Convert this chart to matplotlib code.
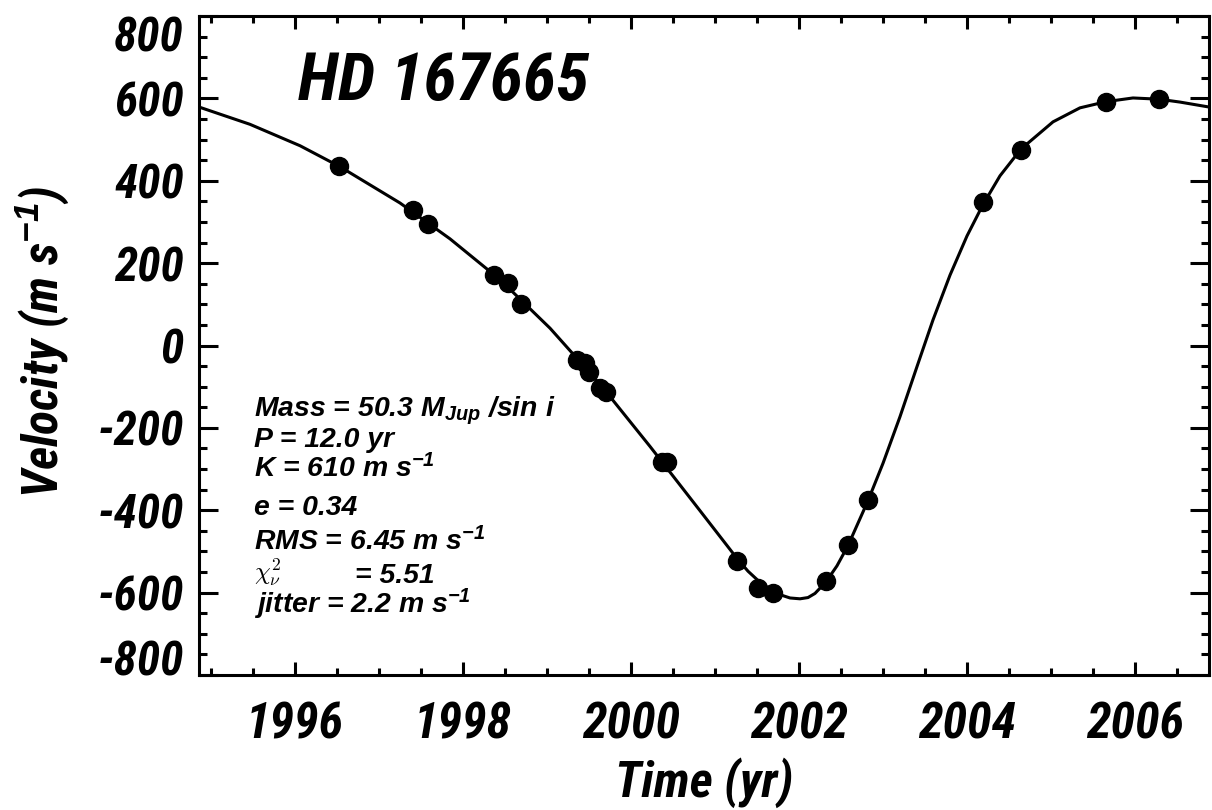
import matplotlib
matplotlib.use('Agg')
import matplotlib.pyplot as plt
import matplotlib.font_manager as fm
from matplotlib.ticker import MultipleLocator

obs_year = [1996.52, 1997.40, 1997.58, 1998.37, 1998.54, 1998.69, 1999.36,
            1999.45, 1999.50, 1999.63, 1999.70, 2000.37, 2000.43, 2001.26,
            2001.51, 2001.69, 2002.32, 2002.58, 2002.82, 2004.19, 2004.64,
            2005.65, 2006.29]
obs_vel = [436, 329, 295, 171, 152, 101, -35, -42, -64, -103, -113, -283,
           -283, -523, -589, -601, -572, -484, -375, 348, 475, 591, 599]

# orbit fit curve
fit_year = [1994.857, 1995.464, 1996.060, 1996.536, 1997.250, 1997.845,
            1998.440, 1999.036, 1999.631, 2000.226, 2000.821, 2001.262,
            2001.393, 2001.536, 2001.655, 2001.774, 2001.893, 2002.012,
            2002.107, 2002.190, 2002.321, 2002.452, 2002.583, 2002.821,
            2003.000, 2003.202, 2003.405, 2003.595, 2003.798, 2004.000,
            2004.190, 2004.393, 2004.643, 2005.024, 2005.345, 2005.655,
            2005.976, 2006.286, 2006.536, 2006.881]
fit_vel = [579, 537, 485, 434, 346, 259, 160, 42, -94, -245, -401, -517,
           -548, -575, -592, -605, -613, -615, -612, -602, -574, -535, -486,
           -377, -286, -173, -51, 62, 171, 266, 342, 412, 477, 543, 577, 592,
           601, 598, 591, 579]

xticks = [1996, 1998, 2000, 2002, 2004, 2006]
yticks = [-800, -600, -400, -200, 0, 200, 400, 600, 800]

star = 'HD 167665'
info = [
    (416, r'Mass = 50.3 M$_{Jup}$ /sin $i$'),
    (447, 'P = 12.0 yr'),
    (477, r'K = 610 m s$^{-1}$'),
    (515, 'e = 0.34'),
    (550, r'RMS = 6.45 m s$^{-1}$'),
    (583, '= 5.51'),
    (613, r'jitter = 2.2 m s$^{-1}$'),
]

NARROW = 'Roboto Condensed'


def bi(family, size):
    return fm.FontProperties(family=family, weight='bold', style='italic', size=size)


def main():
    plt.rcParams['mathtext.fontset'] = 'custom'
    plt.rcParams['mathtext.rm'] = 'Liberation Sans:bold:italic'
    plt.rcParams['mathtext.it'] = 'Liberation Sans:bold:italic'
    plt.rcParams['mathtext.bf'] = 'Liberation Sans:bold:italic'

    W, H = 1212, 810
    fig = plt.figure(figsize=(W / 100, H / 100), dpi=100)
    ax = fig.add_axes([199 / W, 135 / H, 1010 / W, 659 / H])

    ax.plot(fit_year, fit_vel, color='black', lw=2.2, zorder=2)
    ax.plot(obs_year, obs_vel, 'o', color='black', ms=13, zorder=3)

    ax.set_xlim(1994.857, 2006.881)
    ax.set_ylim(-800, 800)

    for s in ax.spines.values():
        s.set_linewidth(2.2)

    ax.set_xticks(xticks)
    ax.set_xticklabels([str(t) for t in xticks], fontproperties=bi(NARROW, 36))
    ax.set_yticks(yticks)
    ax.set_yticklabels([str(t) for t in yticks], fontproperties=bi(NARROW, 34))
    ax.xaxis.set_minor_locator(MultipleLocator(0.5))
    ax.yaxis.set_minor_locator(MultipleLocator(50))
    ax.tick_params(which='both', direction='in', top=True, right=True, width=2.2)
    ax.tick_params(axis='x', which='major', length=9.4, pad=19)
    ax.tick_params(axis='x', which='minor', length=5)
    ax.tick_params(axis='y', which='major', length=13.7, pad=11)
    ax.tick_params(axis='y', which='minor', length=5.8)

    # end labels kept inside the figure like the original
    ylabs = ax.get_yticklabels()
    ylabs[-1].set_va('top')
    ylabs[0].set_va('baseline')

    lab = bi(NARROW, 36)
    fig.text(704 / W, 1 - 797 / H, 'Time (yr)', fontproperties=lab,
             ha='center', va='baseline')
    fig.text(58 / W, 1 - 342 / H, r'Velocity (m s$^{-1}$)', fontproperties=lab,
             ha='center', va='baseline', rotation=90, rotation_mode='anchor')

    fig.text(298 / W, 1 - 100 / H, star, fontproperties=bi(NARROW, 48.5), va='baseline')

    small = bi('Liberation Sans', 20.4)
    for ypix, txt in info:
        xpix = 355 if txt.startswith('=') else 254
        fig.text(xpix / W, 1 - ypix / H, txt, fontproperties=small, va='baseline')
    fig.text(254 / W, 1 - 581 / H, r'$\chi^2_\nu$', fontsize=18,
             math_fontfamily='cm', va='baseline')

    fig.savefig('out.png', dpi=100)


if __name__ == '__main__':
    main()
